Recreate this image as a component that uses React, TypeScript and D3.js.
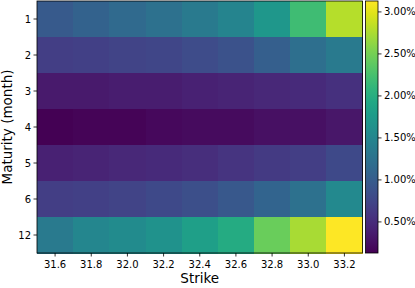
import React from 'react';
import * as d3 from 'd3';

// Implied vol surface-ish heatmap (values in %)
const maturities = ['1', '2', '3', '4', '5', '6', '12'];
const strikes = ['31.6', '31.8', '32.0', '32.2', '32.4', '32.6', '32.8', '33.0', '33.2'];

const m1 = [0.97, 1.06, 1.15, 1.24, 1.36, 1.48, 1.72, 2.2, 2.8];
const m2 = [0.67, 0.7, 0.73, 0.76, 0.82, 0.88, 1.03, 1.21, 1.36];
const m3 = [0.34, 0.34, 0.37, 0.37, 0.4, 0.43, 0.46, 0.49, 0.55];
const m4 = [0.13, 0.16, 0.16, 0.19, 0.22, 0.22, 0.25, 0.25, 0.31];
const m5 = [0.4, 0.43, 0.46, 0.49, 0.52, 0.58, 0.64, 0.67, 0.79];
const m6 = [0.67, 0.7, 0.73, 0.79, 0.85, 0.94, 1.09, 1.24, 1.54];
const m12 = [1.36, 1.51, 1.57, 1.66, 1.81, 1.96, 2.45, 2.74, 3.13];
const rows = [m1, m2, m3, m4, m5, m6, m12];

const cbarTicks = [0.5, 1.0, 1.5, 2.0, 2.5, 3.0];

export default function App() {
  const W = 415;
  const H = 288;
  const left = 37, right = 362.5, top = 1, bottom = 253;
  const cbLeft = 365.5, cbRight = 378;

  const vmin = d3.min(rows.flat()) as number;
  const vmax = d3.max(rows.flat()) as number;
  const color = d3.scaleSequential(d3.interpolateViridis).domain([vmin, vmax]);

  const x = d3.scaleBand().domain(strikes).range([left, right]).padding(0);
  const y = d3.scaleBand().domain(maturities).range([top, bottom]).padding(0);
  const cy = d3.scaleLinear().domain([vmin, vmax]).range([bottom, top]);

  const stops = d3.range(0, 1.0001, 0.05);
  const font = 'DejaVu Sans, sans-serif';

  return (
    <svg width={W} height={H} style={{ position: 'absolute', left: 0, top: 0 }} fontFamily={font}>
      <defs>
        <linearGradient id="cb" x1="0" y1="1" x2="0" y2="0">
          {stops.map(s => (
            <stop key={s} offset={s} stopColor={d3.interpolateViridis(s)} />
          ))}
        </linearGradient>
      </defs>
      <rect width={W} height={H} fill="#fff" />

      {/* cells */}
      {rows.map((row, i) =>
        row.map((v, j) => (
          <rect
            key={`${i}-${j}`}
            x={x(strikes[j])}
            y={y(maturities[i])}
            width={x.bandwidth() + 0.5}
            height={y.bandwidth() + 0.5}
            fill={color(v)}
            shapeRendering="crispEdges"
          />
        ))
      )}
      <rect x={left} y={top} width={right - left} height={bottom - top} fill="none" stroke="#000" strokeWidth={0.8} />

      {/* x axis */}
      {strikes.map(s => {
        const cx = (x(s) as number) + x.bandwidth() / 2;
        return (
          <g key={s}>
            <line x1={cx} x2={cx} y1={bottom} y2={bottom + 3.5} stroke="#000" strokeWidth={0.8} />
            <text x={cx} y={bottom + 15} fontSize={10} textAnchor="middle" fill="#000">{s}</text>
          </g>
        );
      })}
      <text x={(left + right) / 2} y={283} fontSize={13.5} textAnchor="middle" fill="#000">Strike</text>

      {/* y axis */}
      {maturities.map(m => {
        const cyy = (y(m) as number) + y.bandwidth() / 2;
        return (
          <g key={m}>
            <line x1={left - 3.5} x2={left} y1={cyy} y2={cyy} stroke="#000" strokeWidth={0.8} />
            <text x={left - 6} y={cyy + 3.5} fontSize={10} textAnchor="end" fill="#000">{m}</text>
          </g>
        );
      })}
      <text transform={`translate(12,${(top + bottom) / 2}) rotate(-90)`} fontSize={13.5} textAnchor="middle" fill="#000">
        Maturity (month)
      </text>

      {/* colorbar */}
      <rect x={cbLeft} y={top} width={cbRight - cbLeft} height={bottom - top} fill="url(#cb)" stroke="#000" strokeWidth={0.8} />
      {cbarTicks.map(t => (
        <g key={t}>
          <line x1={cbRight} x2={cbRight + 3.5} y1={cy(t)} y2={cy(t)} stroke="#000" strokeWidth={0.8} />
          <text x={cbRight + 6} y={cy(t) + 3.5} fontSize={10} fill="#000">{t.toFixed(2)}%</text>
        </g>
      ))}
    </svg>
  );
}
